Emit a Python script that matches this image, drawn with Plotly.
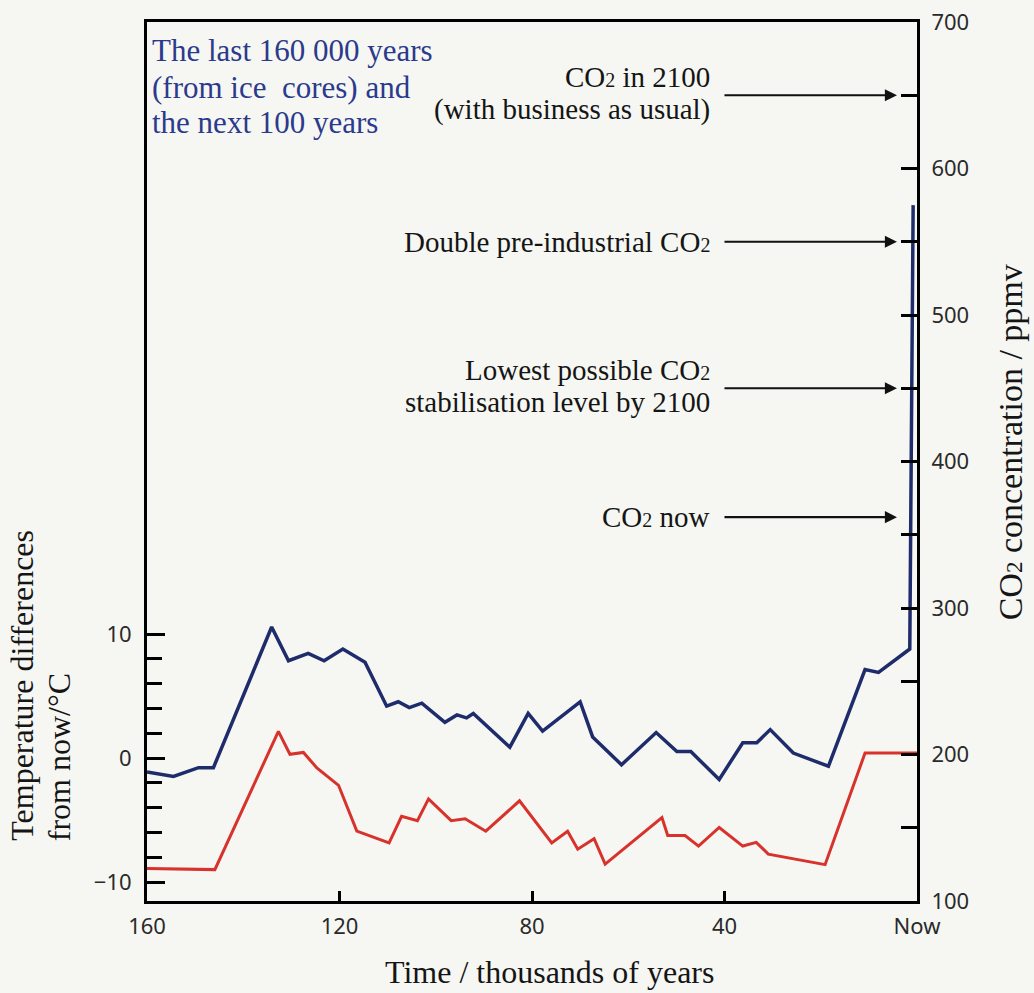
import plotly.graph_objects as go

# ---- data ----
time_co2 = [160, 154.5, 149.3, 146.2, 134.1, 130.6, 126.5, 123.2, 119.3, 114.7,
            110.2, 107.8, 105.5, 102.9, 98.1, 95.6, 93.6, 92.2, 84.6, 80.8,
            77.8, 70.0, 67.4, 61.4, 54.2, 49.9, 47.0, 41.1, 36.2, 33.3,
            30.5, 25.7, 18.4, 10.8, 8.0, 1.5, 0.8]
co2 = [188, 185, 191, 191, 287, 264, 269, 264, 272, 263,
       233, 236, 232, 235, 222, 227, 225, 228, 205, 228,
       216, 236, 212, 193, 215, 202, 202, 183, 208, 208,
       217, 201, 192, 258, 256, 272, 575]

time_temp = [160, 145.9, 132.7, 130.3, 127.5, 124.7, 120.2, 116.4, 109.7, 107.1,
             103.8, 101.5, 96.8, 93.9, 89.6, 82.6, 75.9, 72.6, 70.5, 67.1,
             64.8, 53.0, 51.8, 48.2, 45.4, 41.1, 36.2, 33.4, 30.9, 19.1,
             10.8, 0.0]
temp = [-8.9, -9.0, 2.15, 0.3, 0.45, -0.8, -2.2, -5.9, -6.85, -4.7,
        -5.05, -3.3, -5.05, -4.9, -5.9, -3.45, -6.85, -5.9, -7.35, -6.5,
        -8.55, -4.8, -6.25, -6.25, -7.1, -5.6, -7.1, -6.8, -7.75, -8.6,
        0.4, 0.4]

x_tickvals = [160, 120, 80, 40, 0]
x_ticktext = ["160", "120", "80", "40", "Now"]
temp_tickvals = [-10, 0, 10]
temp_ticktext = ["\u221210", "0", "10"]
temp_minor = [-8, -6, -4, -2, 2, 4, 6, 8]
co2_tickvals = [100, 200, 300, 400, 500, 600, 700]
co2_minor = [150, 250, 350, 450, 550, 650]

SUB2 = "<span style='font-size:20px'>2</span>"
SUB2_BIG = "<span style='font-size:23px'>2</span>"
# each marker: list of text lines, CO2 level the arrow points at
marker_labels = [["CO" + SUB2 + " in 2100", "(with business as usual)"],
                 ["Double pre-industrial CO" + SUB2],
                 ["Lowest possible CO" + SUB2, "stabilisation level by 2100"],
                 ["CO" + SUB2 + " now"]]
marker_levels = [650, 550, 450, 362]

title_lines = ["The last 160 000 years", "(from ice  cores) and", "the next 100 years"]
left_title_lines = ["Temperature differences", "from now/\u00b0C"]

SERIF = "Liberation Serif"
SANS = "Noto Sans"
BG = "#f6f7f3"

fig = go.Figure()
fig.add_trace(go.Scatter(x=time_temp, y=temp, mode="lines", yaxis="y",
                         line=dict(color="#d8322c", width=3), showlegend=False))
fig.add_trace(go.Scatter(x=time_co2, y=co2, mode="lines", yaxis="y2",
                         line=dict(color="#1f2c6c", width=3.5), showlegend=False))

axis_common = dict(showline=True, linecolor="black", linewidth=3, showgrid=False,
                   zeroline=False, ticks="inside", tickcolor="black",
                   automargin=False,
                   tickfont=dict(family=SANS, size=22, color="#2a2a2a"))

fig.update_layout(
    width=1034, height=993,
    margin=dict(l=147, r=117, t=22, b=92),
    paper_bgcolor=BG, plot_bgcolor=BG,
    xaxis=dict(range=[160, 0], tickmode="array", tickvals=x_tickvals,
               ticktext=x_ticktext, ticklen=10, tickwidth=2.5, mirror=True,
               ticklabelstandoff=4, **axis_common),
    yaxis=dict(range=[-11.53, 59.35], tickmode="array", tickvals=temp_tickvals,
               ticktext=temp_ticktext, ticklen=18, tickwidth=3,
               ticklabelstandoff=8,
               minor=dict(tickmode="array", tickvals=temp_minor, ticklen=15,
                          tickwidth=3, ticks="inside", tickcolor="black"),
               **axis_common),
    yaxis2=dict(range=[100, 700], overlaying="y", side="right", tickmode="array",
                tickvals=co2_tickvals, ticklen=16, tickwidth=3,
                ticklabelstandoff=7,
                minor=dict(tickmode="array", tickvals=co2_minor, ticklen=16,
                           tickwidth=3, ticks="inside", tickcolor="black"),
                **axis_common),
)

annotations = []
# blue title, one annotation per line for tight line spacing
for ty, line in zip([0.968, 0.926, 0.886], title_lines):
    annotations.append(dict(xref="paper", yref="paper", x=0.004, y=ty,
                            xanchor="left", yanchor="middle", align="left",
                            text=line, showarrow=False,
                            font=dict(family=SERIF, size=31, color="#2b3a8c")))
# marker labels with arrows
for lines, lev in zip(marker_labels, marker_levels):
    shifts = [0] if len(lines) == 1 else [18, -14]
    for line, sh in zip(lines, shifts):
        annotations.append(dict(xref="paper", yref="y2", x=0.734, y=lev,
                                yshift=sh, xanchor="right", yanchor="middle",
                                text=line, showarrow=False,
                                font=dict(family=SERIF, size=29, color="#151515")))
    annotations.append(dict(xref="paper", yref="y2", x=0.974, y=lev,
                            axref="pixel", ayref="pixel", ax=-174, ay=0,
                            text="", showarrow=True, arrowhead=2, arrowsize=1.1,
                            arrowwidth=2.2, arrowcolor="#111"))
# left axis title: two separately placed lines, bottom-aligned
for lx, line in zip([-0.162, -0.114], left_title_lines):
    annotations.append(dict(xref="paper", yref="paper", x=lx, y=0.066,
                            xanchor="center", yanchor="bottom", textangle=-90,
                            showarrow=False, text=line,
                            font=dict(family=SERIF, size=32, color="#151515")))
annotations.append(dict(xref="paper", yref="paper", x=1.121, y=0.522,
                        xanchor="center", yanchor="middle", textangle=-90,
                        showarrow=False,
                        text="CO" + SUB2_BIG + " concentration / ppmv",
                        font=dict(family=SERIF, size=34, color="#151515")))
annotations.append(dict(xref="paper", yref="paper", x=0.523, y=-0.081,
                        xanchor="center", yanchor="middle", showarrow=False,
                        text="Time / thousands of years",
                        font=dict(family=SERIF, size=32, color="#151515")))
fig.update_layout(annotations=annotations)

fig.write_html("out.html", config={"displayModeBar": False},
               post_script="document.body.style.margin='0px';"
                           "document.body.style.background='" + BG + "';")
